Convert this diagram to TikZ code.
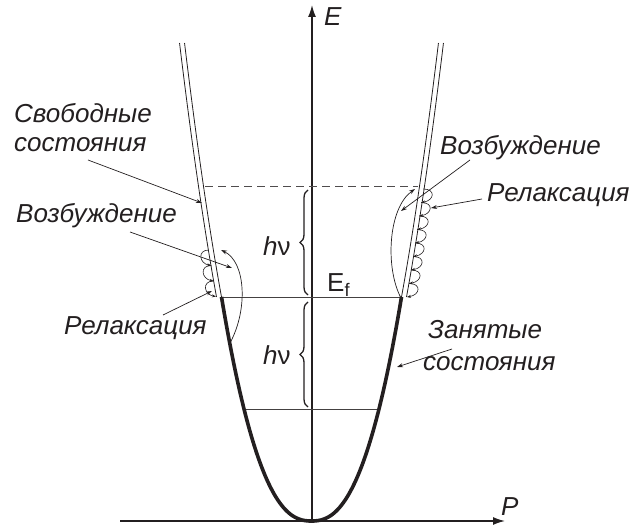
\documentclass[tikz,border=0pt]{standalone}
\usepackage{fontspec}
\setmainfont{Liberation Sans}
\usetikzlibrary{arrows.meta,decorations.pathreplacing}
\definecolor{ink}{RGB}{35,31,32}
\begin{document}
\begin{tikzpicture}[x=1pt,y=-1pt,
  lbl/.style={font=\fontsize{26}{30}\selectfont\itshape, inner sep=0pt, anchor=base west, text=ink},
  up/.style={font=\fontsize{26}{30}\selectfont, inner sep=0pt, anchor=base west, text=ink},
  axis/.style={line width=1.4pt, draw=ink, -{Latex[length=12pt,width=8pt]}},
  level/.style={line width=0.9pt, draw=ink!85},
  tube/.style={line width=0.8pt, draw=ink},
  occ/.style={line width=3.6pt, draw=ink},
  ptr/.style={line width=0.7pt, draw=ink, -{Stealth[length=6pt,width=4pt]}},
  loop/.style={line width=0.6pt, draw=ink, -{Stealth[length=4pt,width=3pt]}},
  hvbrace/.style={line width=1.3pt, draw=ink, decorate, decoration={brace, amplitude=8pt}}]
\useasboundingbox (0,0) rectangle (635,526);
% key coordinates
\coordinate (O) at (311.5,521);
\coordinate (Pend) at (505,521);
\coordinate (Pstart) at (120,521);
\coordinate (Eend) at (312,5);
\coordinate (FL) at (221.5,297);
\coordinate (FR) at (401.5,297);
\coordinate (LL) at (245,409);
\coordinate (LR) at (380,409);
\coordinate (DL) at (205,186);
\coordinate (DR) at (418,186);
% axes
\draw[axis] (Pstart) -- (Pend);
\draw[axis] (312,521) -- (Eend);
\node[lbl] (Plab) at (501,515) {P};
\node[lbl] (Elab) at (324,26) {E};
% levels
\draw[level] (FL) -- (FR);
\draw[level] (LL) -- (LR);
\draw[line width=0.9pt, draw=ink!80, dash pattern=on 8pt off 5pt] (DL) -- (DR);
% occupied states (thick)
\draw[occ, line join=round, line cap=butt] plot[domain=-90:90, samples=100]
  (\x+311.5, {521-224*pow(abs(\x)/90+0.0001,2.41)});
% free states (double thin lines)
\draw[tube] plot[domain=224:478, samples=30] ({311.5-90*pow(\x/224,0.454)}, 521-\x);
\draw[tube] plot[domain=224:478, samples=30] ({306.5-90*pow(\x/224,0.454)}, 521-\x);
\draw[tube] plot[domain=224:478, samples=30] ({311.5+90*pow(\x/224,0.454)}, 521-\x);
\draw[tube] plot[domain=224:478, samples=30] ({316.5+90*pow(\x/224,0.454)}, 521-\x);
% braces
\draw[hvbrace] (308,295) -- (308,190);
\draw[hvbrace] (308,407) -- (308,302);
\node[up] (hv1) at (263,256) {\itshape h\upshape ν};
\node[up] (hv2) at (263,365) {\itshape h\upshape ν};
\node[up] (Ef) at (327,292) {E\textsubscript{f}};
% excitation arcs
\coordinate (exR0) at (401,298);
\coordinate (exR1) at (415,189);
\draw[ptr] (exR0) .. controls (385,268) and (388,208) .. (exR1);
\coordinate (exL0) at (230,343);
\coordinate (exL1) at (221,250);
\draw[ptr] (exL0) .. controls (248,310) and (246,262) .. (exL1);
% relaxation loops right
\foreach \i in {0,...,7}{
  \pgfmathsetmacro\ya{189+13.5*\i}
  \pgfmathsetmacro\yb{\ya+13.5}
  \pgfmathsetmacro\xa{423.5-0.15*(\ya-187)}
  \pgfmathsetmacro\xb{423.5-0.15*(\yb-187)}
  \draw[loop] (\xa,\ya) .. controls (\xa+13,\ya) and (\xb+13,\yb-2) .. (\xb,\yb);
}
% relaxation loops left
\foreach \i in {0,1,2}{
  \pgfmathsetmacro\ya{250+15.5*\i}
  \pgfmathsetmacro\yb{\ya+15.5}
  \pgfmathsetmacro\xa{199.5+0.15*(\ya-187)}
  \pgfmathsetmacro\xb{199.5+0.15*(\yb-187)}
  \draw[loop] (\xa,\ya) .. controls (\xa-12,\ya) and (\xb-12,\yb-2) .. (\xb,\yb);
}
% labels
\node[lbl] (svob) at (14,123) {Свободные};
\node[lbl] (sost1) at (14,152) {состояния};
\node[lbl] (vozbL) at (16,223) {Возбуждение};
\node[lbl] (relL) at (64,335) {Релаксация};
\node[lbl] (vozbR) at (440,155) {Возбуждение};
\node[lbl] (relR) at (487,202) {Релаксация};
\node[lbl] (zan) at (428,339) {Занятые};
\node[lbl] (sost2) at (423,371) {состояния};
% label pointers
\coordinate (p1) at (88,160); \coordinate (t1) at (202,203);
\coordinate (p2) at (130,232); \coordinate (t2) at (232,268);
\coordinate (p3) at (163,315); \coordinate (t3) at (212,291);
\coordinate (p4) at (470,160); \coordinate (t4) at (401,211);
\coordinate (p5) at (482,199); \coordinate (t5) at (431,208);
\coordinate (p6) at (452,349); \coordinate (t6) at (397,367);
\draw[ptr] (p1) -- (t1);
\draw[ptr] (p2) -- (t2);
\draw[ptr] (p3) -- (t3);
\draw[ptr] (p4) -- (t4);
\draw[ptr] (p5) -- (t5);
\draw[ptr] (p6) -- (t6);
\end{tikzpicture}
\end{document}
